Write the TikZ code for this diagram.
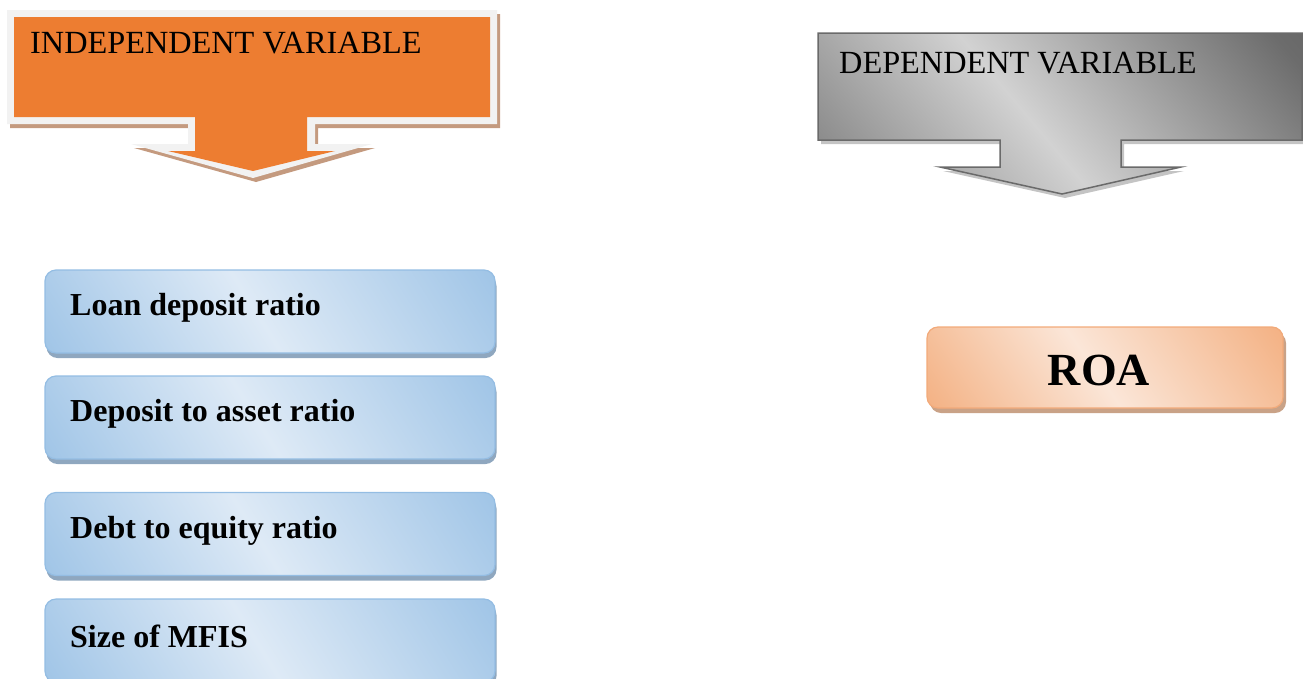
\documentclass[tikz,border=0pt]{standalone}
\usepackage{fontspec}
\setmainfont{Liberation Serif}
\usetikzlibrary{shadows}
\definecolor{orangefill}{HTML}{ED7D31}
\definecolor{orangerim}{HTML}{F2F2F2}
\definecolor{orangeshadow}{HTML}{C49A7F}
\definecolor{grayA}{HTML}{5A5A5A}
\definecolor{grayB}{HTML}{6C6C6C}
\definecolor{graylight}{HTML}{D2D2D2}
\definecolor{grayC}{HTML}{7C7C7C}
\definecolor{grayD}{HTML}{727272}
\definecolor{grayline}{HTML}{6A6A6A}
\definecolor{grayshadow}{HTML}{C4C4C4}
\definecolor{blueedge}{HTML}{9DC3E6}
\definecolor{bluemid}{HTML}{DEEAF6}
\definecolor{blueline}{HTML}{94BDE3}
\definecolor{blueshadow}{HTML}{8FA7BF}
\definecolor{peachedge}{HTML}{F3AF80}
\definecolor{peachmid}{HTML}{FBE6D8}
\definecolor{peachline}{HTML}{F2AA7A}
\definecolor{peachshadow}{HTML}{C9A287}
\pgfdeclareverticalshading{blueband}{100bp}{color(0bp)=(blueedge); color(14bp)=(blueedge); color(52bp)=(bluemid); color(86bp)=(blueedge); color(100bp)=(blueedge)}
\pgfdeclareverticalshading{peachband}{100bp}{color(0bp)=(peachedge); color(14bp)=(peachedge); color(52bp)=(peachmid); color(86bp)=(peachedge); color(100bp)=(peachedge)}
\pgfdeclareverticalshading{grayband}{100bp}{color(0bp)=(grayA); color(18bp)=(grayB); color(54bp)=(graylight); color(86bp)=(grayC); color(100bp)=(grayD)}
\tikzset{
  varbox/.style={draw=blueline, line width=1.2pt, rounded corners=11pt,
    shading=blueband, shading angle=122,
    minimum width=450pt, minimum height=83pt, inner sep=0pt,
    drop shadow={fill=blueshadow, opacity=1, shadow xshift=1.5pt, shadow yshift=-5pt}},
  roabox/.style={draw=peachline, line width=1.2pt, rounded corners=11pt,
    shading=peachband, shading angle=125,
    minimum width=356pt, minimum height=81pt, inner sep=0pt,
    drop shadow={fill=peachshadow, opacity=1, shadow xshift=3pt, shadow yshift=-5pt}},
  vartext/.style={anchor=base west, inner sep=0pt, font=\fontsize{32}{38}\selectfont\bfseries},
  titletext/.style={anchor=base west, inner sep=0pt, font=\fontsize{32.3}{38}\selectfont},
}
\begin{document}
\begin{tikzpicture}[x=1pt,y=-1pt]
\useasboundingbox (0,0) rectangle (1303,678);
% independent variable callout
\fill[orangeshadow] (10,14) -- (500,14) -- (500,128) -- (318,128) -- (318,148) -- (375,148) -- (256,182) -- (134,148) -- (191,148) -- (191,128) -- (10,128) -- cycle;
\fill[orangerim] (7,10) -- (497,10) -- (497,124) -- (315,124) -- (315,144) -- (372,144) -- (253,178) -- (131,144) -- (188,144) -- (188,124) -- (7,124) -- cycle;
\fill[orangefill] (14,17) -- (490,17) -- (490,117) -- (307,117) -- (307,151) -- (335,151) -- (253,171) -- (168,151) -- (195,151) -- (195,117) -- (14,117) -- cycle;
\node[titletext] (indep) at (30,53) {INDEPENDENT VARIABLE};
% dependent variable callout
\fill[grayshadow] (821,37) -- (1305,37) -- (1305,144) -- (1124,144) -- (1124,171) -- (1184,171) -- (1065,198) -- (943,171) -- (1003,171) -- (1003,144) -- (821,144) -- cycle;
\path[draw=grayline, line width=1.5pt, shading=grayband, shading angle=130]
 (818,33) -- (1302,33) -- (1302,140) -- (1121,140) -- (1121,167) -- (1181,167) -- (1062,194) -- (940,167) -- (1000,167) -- (1000,140) -- (818,140) -- cycle;
\node[titletext] (dep) at (839,73) {DEPENDENT VARIABLE};
% independent variable boxes
\node[varbox] (b1) at (270,311.5) {};
\node[varbox] (b2) at (270,417.5) {};
\node[varbox] (b3) at (270,534) {};
\node[varbox] (b4) at (270,640.5) {};
\node[vartext] (t1) at (70,315) {Loan deposit ratio};
\node[vartext] (t2) at (70,421.5) {Deposit to asset ratio};
\node[vartext] (t3) at (70,538) {Debt to equity ratio};
\node[vartext] (t4) at (70,647) {Size of MFIS};
% dependent variable box
\node[roabox] (roa) at (1105,367.5) {};
\node[anchor=base, inner sep=0pt, font=\fontsize{46}{52}\selectfont\bfseries] (roat) at (1099,385) {ROA};
\end{tikzpicture}
\end{document}
